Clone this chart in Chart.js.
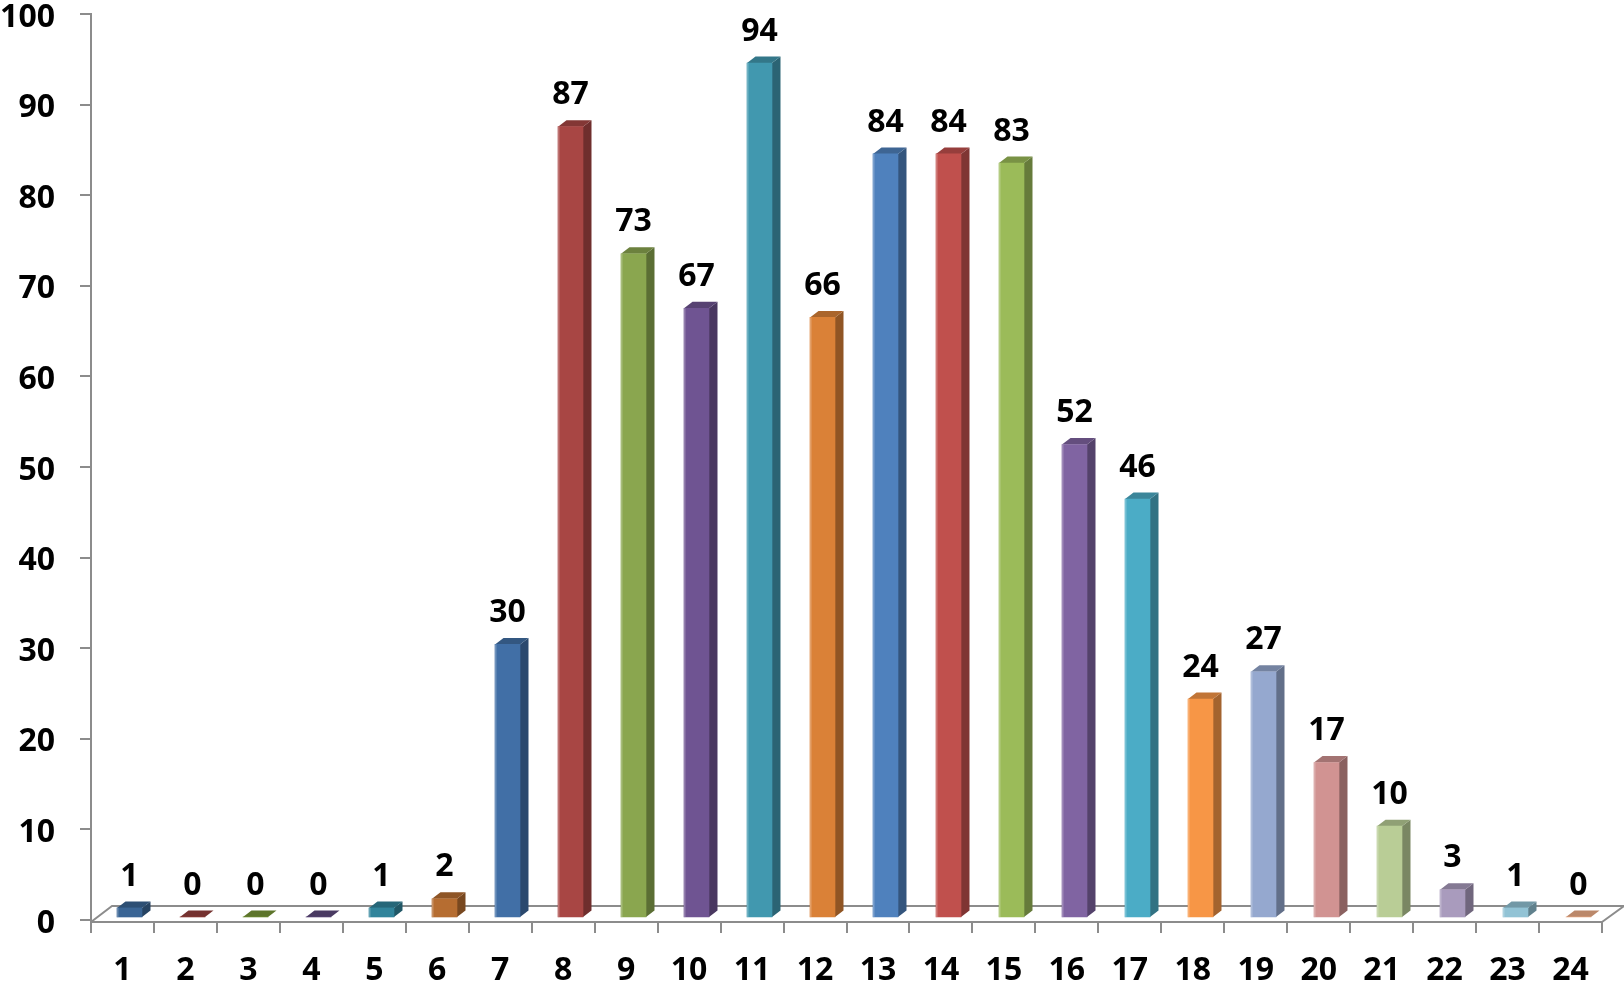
<!DOCTYPE html>
<html>
<head>
<meta charset="utf-8">
<title>Chart</title>
<script src="https://cdn.jsdelivr.net/npm/chart.js@4"></script>
<style>
    html, body { margin: 0; padding: 0; background: #fff; overflow: hidden; }
    canvas { display: block; }
</style>
</head>
<body>
<canvas id="barChart" width="1624" height="985"></canvas>
<script>
// ===== DATA =====
const hours = ["1", "2", "3", "4", "5", "6", "7", "8", "9", "10", "11", "12",
    "13", "14", "15", "16", "17", "18", "19", "20", "21", "22", "23", "24"];
const counts = [1, 0, 0, 0, 1, 2, 30, 87, 73, 67, 94, 66,
    84, 84, 83, 52, 46, 24, 27, 17, 10, 3, 1, 0];
const barColors = [
    "#3a6595", "#96403d", "#779637", "#5f4a7e", "#31849b", "#b66d31",
    "#416fa6", "#a84644", "#8aa64f", "#6f5492", "#4198af", "#da8137",
    "#4f81bd", "#c0504d", "#9bbb59", "#8064a2", "#4bacc6", "#f79646",
    "#95a8cf", "#d19392", "#b9cd96", "#a99bbd", "#92c3d5", "#f0ae88"
];

const axisColor = "#8c8c8c";
const fontFamily = "'Open Sans'";
const fontSize = 32;
const depthX = 8.5;
const depthY = 6.5;

function shade(hex, k) {
    const n = parseInt(hex.slice(1), 16);
    const r = Math.round((n >> 16) * k);
    const g = Math.round(((n >> 8) & 255) * k);
    const b = Math.round((n & 255) * k);
    return `rgb(${r},${g},${b})`;
}

function poly(ctx, pts, color) {
    ctx.fillStyle = color;
    ctx.beginPath();
    pts.forEach((p, i) => i ? ctx.lineTo(p[0], p[1]) : ctx.moveTo(p[0], p[1]));
    ctx.closePath();
    ctx.fill();
}

// ===== 3D LOOK: floor behind the bars, sides and tops of the bars =====
const floorPlugin = {
    id: "floor",
    beforeDatasetsDraw(chart) {
        const { ctx, chartArea } = chart;
        const { left, right, bottom } = chartArea;
        ctx.save();
        ctx.strokeStyle = axisColor;
        ctx.lineWidth = 2;
        ctx.beginPath();
        ctx.moveTo(left, bottom);
        ctx.lineTo(left + 21, bottom - 16);
        ctx.lineTo(right + 22, bottom - 16);
        ctx.lineTo(right, bottom);
        ctx.stroke();
        ctx.restore();

        const meta = chart.getDatasetMeta(0);
        meta.data.forEach((bar, i) => {
            const l = bar.x - bar.width / 2;
            const r = bar.x + bar.width / 2;
            const c = barColors[i];
            poly(ctx, [[r, bar.y], [r + depthX, bar.y - depthY], [r + depthX, bar.base - depthY], [r, bar.base]], shade(c, 0.66));
            poly(ctx, [[l, bar.y], [r, bar.y], [r + depthX, bar.y - depthY], [l + depthX, bar.y - depthY]], shade(c, 0.78));
        });
    },
    afterDatasetsDraw(chart) {
        const { ctx } = chart;
        const meta = chart.getDatasetMeta(0);
        ctx.save();
        ctx.font = `bold ${fontSize}px ${fontFamily}`;
        ctx.textAlign = "center";
        ctx.textBaseline = "middle";
        meta.data.forEach((bar, i) => {
            // thin light edge on the left of each bar
            if (counts[i] > 0) {
                ctx.fillStyle = "rgba(255,255,255,0.25)";
                ctx.fillRect(bar.x - bar.width / 2, bar.y, 1.5, bar.base - bar.y);
            }
            ctx.fillStyle = "#000";
            ctx.fillText(String(counts[i]), bar.x, bar.y - 31.5);
        });
        ctx.restore();
    }
};

// ===== CHART =====
const ctx = document.getElementById("barChart").getContext("2d");
const tickFont = { family: "Open Sans", size: fontSize, weight: "bold" };

const barChart = new Chart(ctx, {
    type: "bar",
    data: {
        labels: hours,
        datasets: [{
            data: counts,
            backgroundColor: barColors,
            borderWidth: 0,
            barThickness: 25,
            xAxisID: "xBars",
            yAxisID: "yBars"
        }]
    },
    options: {
        responsive: false,
        animation: false,
        layout: { autoPadding: false, padding: { top: 14, right: 22 } },
        plugins: { legend: { display: false }, tooltip: { enabled: false } },
        scales: {
            x: {
                type: "category",
                offset: true,
                afterFit(scale) { scale.height = 63; },
                border: { color: axisColor, width: 2 },
                grid: { offset: true, color: axisColor, tickColor: axisColor, lineWidth: 2, tickLength: 11, drawOnChartArea: false },
                ticks: { color: "#000", font: tickFont, padding: 19, maxRotation: 0, autoSkip: false }
            },
            y: {
                type: "linear",
                min: -0.22,
                max: 100,
                afterFit(scale) {
                    scale.width = 91;
                    // tick labels may stick out over the top of the plot
                    scale.paddingTop = 0;
                    scale.paddingBottom = 0;
                },
                border: { color: axisColor, width: 2 },
                grid: { color: axisColor, tickColor: axisColor, lineWidth: 2, tickLength: 11, drawOnChartArea: false },
                ticks: { stepSize: 10, includeBounds: false, color: "#000", font: tickFont, padding: 25, labelOffset: 3.5 }
            },
            // the bars stand a little inside the floor, so they get their own hidden scales
            xBars: { type: "linear", axis: "x", display: false, offset: false, min: 0.389, max: 24.373 },
            yBars: { type: "linear", axis: "y", display: false, min: -0.552, max: 99.4 }
        }
    },
    plugins: [floorPlugin]
});
</script>
</body>
</html>
